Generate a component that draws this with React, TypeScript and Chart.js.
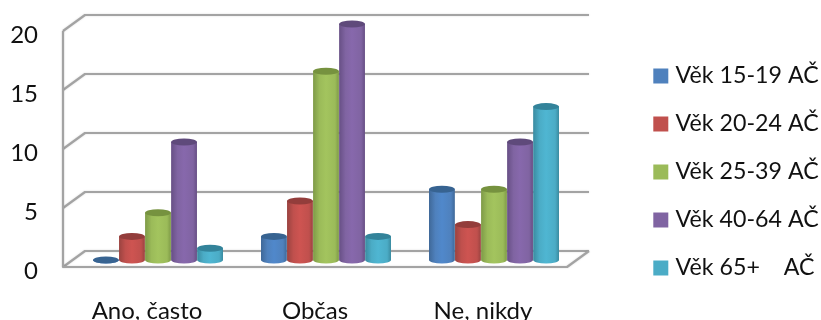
import React, { useEffect, useRef } from "react";
import { Chart, registerables } from "chart.js";

Chart.register(...registerables);

const categories = ["Ano, často", "Občas", "Ne, nikdy"];
const seriesNames = ["Věk 15-19 AČ", "Věk 20-24 AČ", "Věk 25-39 AČ", "Věk 40-64 AČ", "Věk 65+    AČ"];
const age15to19 = [0, 2, 6];
const age20to24 = [2, 5, 3];
const age25to39 = [4, 16, 6];
const age40to64 = [10, 20, 10];
const age65plus = [1, 2, 13];
const seriesValues = [age15to19, age20to24, age25to39, age40to64, age65plus];

const legendColors = ["#4F81BD", "#C0504D", "#9BBB59", "#8064A2", "#4BACC6"];
const brightColors = ["#5088CB", "#CE5451", "#A3C45E", "#8768AC", "#4FB6D2"];
const edgeColors = ["#3F6898", "#9A4340", "#7E9A47", "#674F85", "#3A8BA0"];
const capColors = ["#376391", "#933D3B", "#76923F", "#5F4A7B", "#33839A"];

const FONT = "Lato, Carlito, sans-serif";
const WALL = "#A3A3A3";
// Projection of the 3D box relative to the plane the cylinders stand on.
const FRONT = { dx: -11, dy: 7 };
const BACK = { dx: 11, dy: -9 };

const scene = {
  id: "scene3d",
  beforeDatasetsDraw(chart: any) {
    const { ctx, chartArea: a, scales } = chart;
    const yScale = scales.y;
    ctx.save();
    ctx.strokeStyle = WALL;
    ctx.lineWidth = 2.2;
    ctx.lineJoin = "round";
    ctx.shadowColor = "rgba(0,0,0,0.15)";
    ctx.shadowBlur = 2;

    const xFront = a.left + FRONT.dx;
    const xBack = a.left + BACK.dx;
    const xBackEnd = a.right + BACK.dx;
    const xFrontEnd = a.right + FRONT.dx;

    for (const tick of yScale.ticks) {
      const py = yScale.getPixelForValue(tick.value);
      ctx.beginPath();
      ctx.moveTo(xFront, py + FRONT.dy);
      ctx.lineTo(xBack, py + BACK.dy);
      ctx.lineTo(xBackEnd, py + BACK.dy);
      ctx.stroke();
    }

    const top = yScale.getPixelForValue(yScale.max);
    const zero = yScale.getPixelForValue(0);
    ctx.beginPath();
    ctx.moveTo(xFront, top + FRONT.dy);
    ctx.lineTo(xFront, zero + FRONT.dy);
    ctx.lineTo(xFrontEnd, zero + FRONT.dy);
    ctx.lineTo(xBackEnd, zero + BACK.dy);
    ctx.stroke();
    ctx.restore();

    // Cylinders replace the flat bars, built from the bar elements' geometry.
    chart.data.datasets.forEach((_: any, i: number) => {
      chart.getDatasetMeta(i).data.forEach((bar: any) => {
        const { x, y, base, width } = bar.getProps(["x", "y", "base", "width"], true);
        const r = width / 2 - 0.1;
        const ry = 3.5;
        const grad = ctx.createLinearGradient(x - r, 0, x + r, 0);
        grad.addColorStop(0, edgeColors[i]);
        grad.addColorStop(0.25, legendColors[i]);
        grad.addColorStop(0.5, brightColors[i]);
        grad.addColorStop(0.85, legendColors[i]);
        grad.addColorStop(1, edgeColors[i]);
        ctx.fillStyle = grad;
        ctx.beginPath();
        ctx.moveTo(x - r, y);
        ctx.lineTo(x - r, base);
        ctx.ellipse(x, base, r, ry, 0, Math.PI, 0, true);
        ctx.lineTo(x + r, y);
        ctx.closePath();
        ctx.fill();
        ctx.fillStyle = capColors[i];
        ctx.beginPath();
        ctx.ellipse(x, y, r, ry, 0, 0, Math.PI * 2);
        ctx.fill();
      });
    });
    return false;
  },
};

// Fixes an axis' thickness and drops the margin it would otherwise claim for its labels.
const fixedFit = (prop: "width" | "height", size: number) => (s: any) => {
  s[prop] = size;
  s.paddingTop = 0;
  s.paddingBottom = 0;
  s.paddingLeft = 0;
  s.paddingRight = 0;
};

export default function App() {
  const ref = useRef<HTMLCanvasElement | null>(null);

  useEffect(() => {
    const chart = new Chart(ref.current as HTMLCanvasElement, {
      type: "bar",
      data: {
        labels: categories,
        datasets: seriesNames.map((label, i) => ({
          label,
          data: seriesValues[i],
          backgroundColor: legendColors[i],
          borderColor: legendColors[i],
          borderWidth: 9,
          categoryPercentage: 0.775,
          barPercentage: 1,
        })),
      },
      plugins: [scene],
      options: {
        responsive: false,
        animation: false,
        layout: { autoPadding: false, padding: { top: 24, bottom: 0 } },
        plugins: {
          title: { display: false },
          tooltip: { enabled: false },
          legend: {
            position: "right",
            maxWidth: 188,
            labels: {
              boxWidth: 6,
              boxHeight: 6,
              padding: 24.8,
              color: "#111111",
              font: { family: FONT, size: 23.2 },
            },
          },
        },
        scales: {
          x: {
            grid: { display: false, drawTicks: false },
            border: { display: false },
            afterFit: fixedFit("height", 60),
            ticks: {
              color: "#111111",
              font: { family: FONT, size: 24 },
              padding: 37,
              labelOffset: -11,
              maxRotation: 0,
            },
          },
          y: {
            min: 0,
            max: 20,
            grid: { display: false, drawTicks: false },
            border: { display: false },
            afterFit: fixedFit("width", 74),
            ticks: {
              stepSize: 5,
              color: "#111111",
              font: { family: FONT, size: 24 },
              padding: 36,
              labelOffset: 11,
            },
          },
          // Empty axis keeps the gap between the plot box and the legend.
          gap: {
            type: "linear",
            position: "right",
            grid: { display: false, drawTicks: false },
            border: { display: false },
            ticks: { display: false },
            afterFit: fixedFit("width", 55),
          },
        },
      } as any,
    });
    return () => chart.destroy();
  }, []);

  return (
    <div style={{ position: "absolute", left: 0, top: 0, width: 821, height: 320, overflow: "hidden", background: "#fff" }}>
      <canvas ref={ref} width={821} height={320} style={{ display: "block" }} />
    </div>
  );
}
